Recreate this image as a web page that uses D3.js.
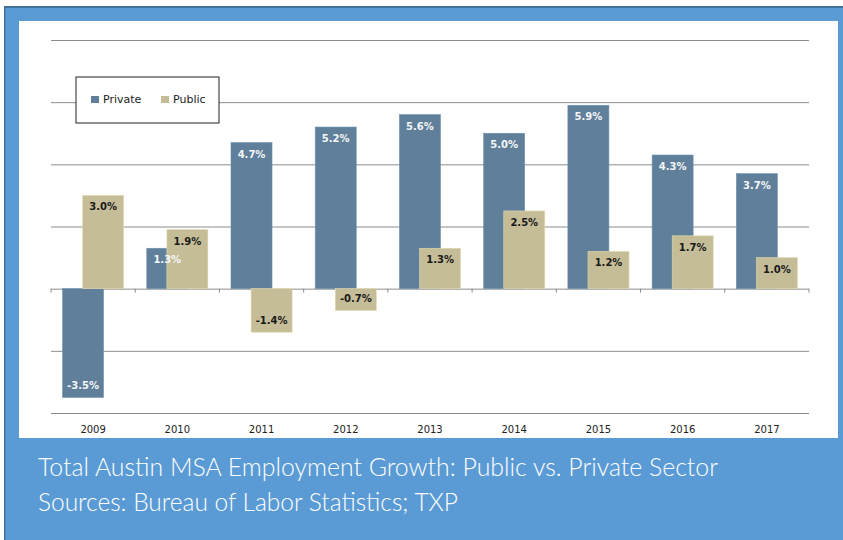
<!DOCTYPE html>
<html>
<head>
<meta charset="utf-8">
<script src="https://cdn.jsdelivr.net/npm/d3@7"></script>
<style>
  body { margin: 0; background: #fff; }
  svg { display: block; }
</style>
</head>
<body>
<svg id="chart" width="843" height="540"></svg>
<script>
// Chart data
const years = ["2009", "2010", "2011", "2012", "2013", "2014", "2015", "2016", "2017"];
const privateGrowth = [-3.5, 1.3, 4.7, 5.2, 5.6, 5.0, 5.9, 4.3, 3.7];
const publicGrowth = [3.0, 1.9, -1.4, -0.7, 1.3, 2.5, 1.2, 1.7, 1.0];
const gridValues = [-4, -2, 0, 2, 4, 6, 8];
const seriesNames = ["Private", "Public"];
const captionLines = [
  "Total Austin MSA Employment Growth: Public vs. Private Sector",
  "Sources: Bureau of Labor Statistics; TXP"
];

const colors = { Private: "#5f7f9a", Public: "#c5bd97" };

const svg = d3.select("#chart");

// frame: blue panel with white plot card
svg.append("rect").attr("x", 4).attr("y", 6).attr("width", 839).attr("height", 534)
  .attr("fill", "#5b9bd5");
svg.append("rect").attr("x", 4).attr("y", 6).attr("width", 839).attr("height", 2)
  .attr("fill", "#41719c");
svg.append("rect").attr("x", 4).attr("y", 6).attr("width", 1.5).attr("height", 534)
  .attr("fill", "#41719c");
svg.append("rect").attr("x", 19).attr("y", 21).attr("width", 819).attr("height", 417)
  .attr("fill", "#fff");

// scales
const x = d3.scaleBand().domain(years).range([51, 809]);
const y = d3.scaleLinear().domain([-4, 8]).range([413, 40]);

// gridlines
const grid = svg.append("g")
  .attr("transform", "translate(51,0)")
  .call(d3.axisLeft(y).tickValues(gridValues).tickSize(-(809 - 51)).tickFormat(""));
grid.select(".domain").remove();
grid.selectAll("line").attr("stroke", "#8c8c8c").attr("stroke-width", 1);

// category boundary ticks along the zero line
const bounds = years.map(d => x(d)).concat([x.range()[1]]);
svg.append("g").selectAll("line")
  .data(bounds)
  .enter().append("line")
  .attr("x1", d => d).attr("x2", d => d)
  .attr("y1", y(0)).attr("y2", y(0) + 4)
  .attr("stroke", "#8c8c8c");

// bars
const bw = x.bandwidth();
const barW = bw * 0.487;
const offset = barW * 0.49;
const left = d => x(d) + (bw - (barW + offset)) / 2;

const rows = years.map((yr, i) => ({ year: yr, Private: privateGrowth[i], Public: publicGrowth[i] }));

seriesNames.forEach((s, si) => {
  svg.append("g").selectAll("rect")
    .data(rows)
    .enter().append("rect")
    .attr("x", d => left(d.year) + si * offset)
    .attr("width", barW)
    .attr("y", d => y(Math.max(0, d[s])))
    .attr("height", d => Math.abs(y(d[s]) - y(0)))
    .attr("fill", colors[s])
    .attr("stroke", d3.color(colors[s]).brighter(0.4))
    .attr("stroke-width", 0.6);
});

// value labels (plain hyphen for negatives, as in the source)
const pct = v => d3.format(".1f")(v).replace("\u2212", "-") + "%";
seriesNames.forEach((s, si) => {
  svg.append("g").selectAll("text")
    .data(rows)
    .enter().append("text")
    .attr("x", d => left(d.year) + si * offset + barW / 2)
    .attr("y", d => d[s] >= 0 ? y(d[s]) + 15 : y(d[s]) - 8)
    .attr("text-anchor", "middle")
    .attr("font-family", "DejaVu Sans, Verdana, sans-serif")
    .attr("font-weight", "bold")
    .attr("font-size", "10px")
    .attr("fill", s === "Private" ? "#f4f6f8" : "#1a1a1a")
    .text(d => pct(d[s]));
});

// year labels
svg.append("g").selectAll("text")
  .data(years)
  .enter().append("text")
  .attr("x", d => x(d) + bw / 2)
  .attr("y", 433)
  .attr("text-anchor", "middle")
  .attr("font-family", "DejaVu Sans, Verdana, sans-serif")
  .attr("font-size", "10px")
  .attr("fill", "#222")
  .text(d => d);

// legend
const legend = svg.append("g").attr("transform", "translate(76,77)");
legend.append("rect").attr("width", 143).attr("height", 46)
  .attr("fill", "#fff").attr("stroke", "#222").attr("stroke-width", 1);
const legendX = [15, 85];
seriesNames.forEach((s, i) => {
  legend.append("rect").attr("x", legendX[i]).attr("y", 19)
    .attr("width", 8).attr("height", 7).attr("fill", colors[s]);
  legend.append("text").attr("x", legendX[i] + 12).attr("y", 26)
    .attr("font-family", "DejaVu Sans, Verdana, sans-serif")
    .attr("font-size", "11px").attr("fill", "#222")
    .text(s);
});

// caption
const capWidths = [680, 420];
svg.append("g").selectAll("text")
  .data(captionLines)
  .enter().append("text")
  .attr("x", 38)
  .attr("y", (d, i) => 476 + i * 35)
  .attr("font-family", "Lato, 'Open Sans', sans-serif")
  .attr("font-weight", 300)
  .attr("font-size", "26px")
  .attr("fill", "#fff")
  .attr("textLength", (d, i) => capWidths[i])
  .attr("lengthAdjust", "spacingAndGlyphs")
  .text(d => d);
</script>
</body>
</html>
